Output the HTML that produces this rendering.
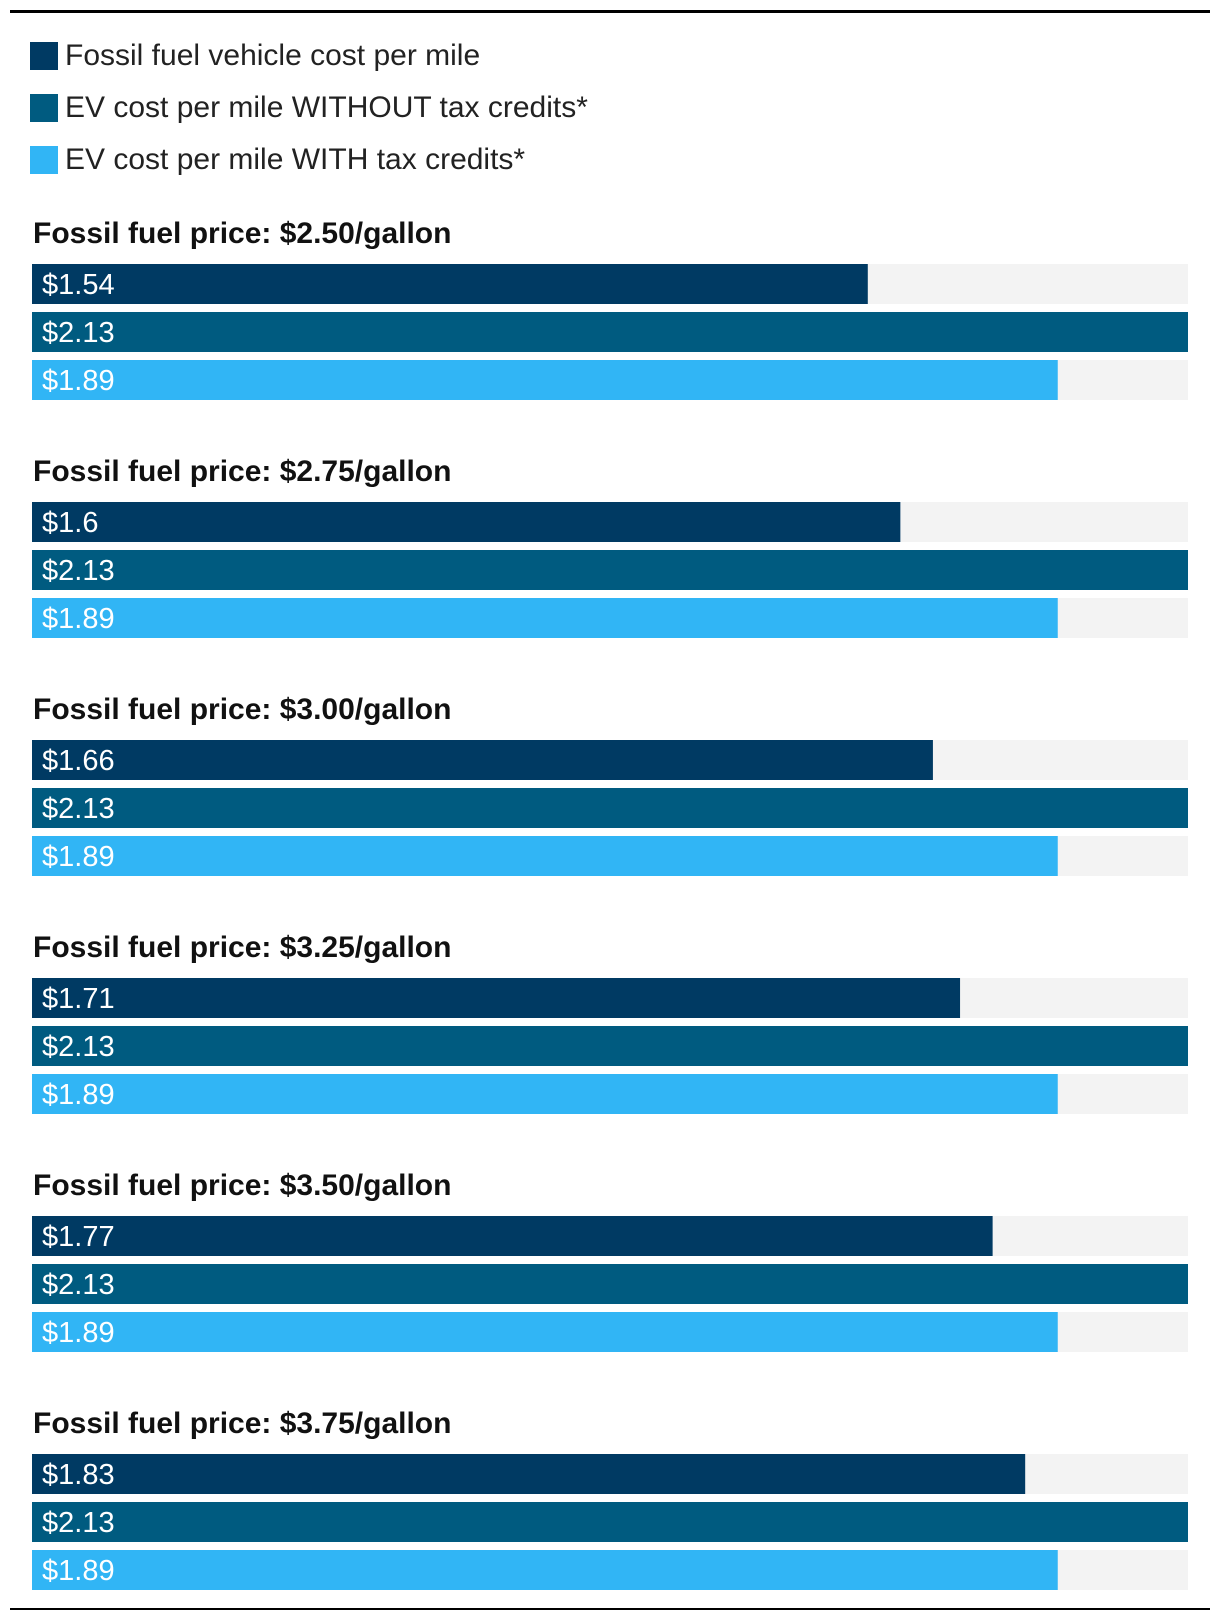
<!DOCTYPE html>
<html><head><meta charset="utf-8"><style>
html,body{margin:0;padding:0;background:#fff;width:1220px;height:1622px;overflow:hidden;font-family:"Liberation Sans",sans-serif}
</style></head><body>
<svg id="chart" width="1220" height="1622" xmlns="http://www.w3.org/2000/svg"></svg>
<script>
const groups=["$2.50","$2.75","$3.00","$3.25","$3.50","$3.75"];
const fossil=[1.54,1.6,1.66,1.71,1.77,1.83];
const evNoCredit=[2.13,2.13,2.13,2.13,2.13,2.13];
const evCredit=[1.89,1.89,1.89,1.89,1.89,1.89];
const seriesNames=["Fossil fuel vehicle cost per mile","EV cost per mile WITHOUT tax credits*","EV cost per mile WITH tax credits*"];
const maxVal=2.13;

const colors=["#003a63","#005b80","#31b5f5"];
const svg=document.getElementById('chart');
const NS="http://www.w3.org/2000/svg";
function mk(t,a,p){const e=document.createElementNS(NS,t);for(const k in a)e.setAttribute(k,a[k]);(p||svg).appendChild(e);return e;}
const x0=32,x1=1188;
const xs=v=>(v/maxVal)*(x1-x0);
let l=mk('rect',{x:10,y:10,width:1200,height:3,fill:'#000'});


l=mk('rect',{x:10,y:1608,width:1200,height:2,fill:'#000'});


seriesNames.forEach((n,i)=>{
  const g=mk('g',{});
  
  
  mk('rect',{x:30,y:42+i*52,width:28,height:28,fill:colors[i]},g);
  const t=mk('text',{x:65,y:65+i*52,'font-size':30,fill:'#222',textLength:0},g);
  t.removeAttribute('textLength');
  t.textContent=n;
});
const series=[fossil,evNoCredit,evCredit];
groups.forEach((gname,gi)=>{
  const gy=264+gi*238;
  const g=mk('g',{});
  
  
  const tt=mk('text',{x:33,y:gy-21,'font-size':30,'font-weight':'bold',fill:'#111'},g);
  
  
  tt.textContent='Fossil fuel price: '+gname+'/gallon';
  series.forEach((s,si)=>{
    const y=gy+si*48;
    const tr=mk('rect',{x:x0,y:y,width:x1-x0,height:40,fill:'#f3f3f3'},g);
    
    
    const b=mk('rect',{x:x0,y:y,width:xs(s[gi]),height:40,fill:colors[si]},g);
    
    
    const lb=mk('text',{x:42,y:y+30,'font-size':29,fill:'#fff'},g);
    
    
    lb.textContent='$'+s[gi];
  });
});
</script>
</body></html>
